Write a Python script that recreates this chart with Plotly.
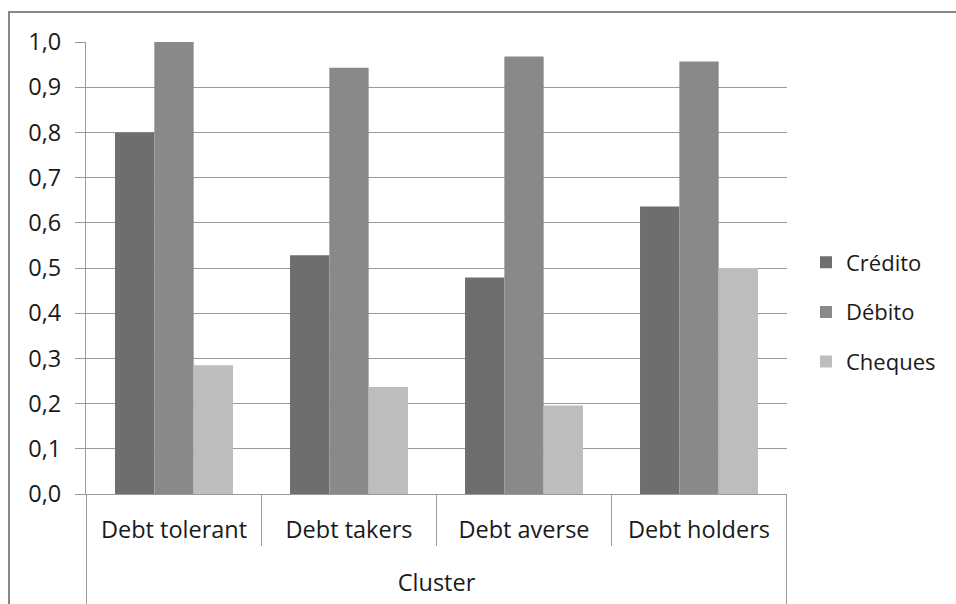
import plotly.graph_objects as go

categories = ["Debt tolerant", "Debt takers", "Debt averse", "Debt holders"]
credito = [0.80, 0.528, 0.479, 0.636]
debito = [1.00, 0.943, 0.968, 0.957]
cheques = [0.285, 0.237, 0.196, 0.500]
series_names = ["Crédito", "Débito", "Cheques"]
series_colors = ["#6e6e6e", "#898989", "#bdbdbd"]
y_ticks = [0.0, 0.1, 0.2, 0.3, 0.4, 0.5, 0.6, 0.7, 0.8, 0.9, 1.0]
axis_title = "Cluster"

FONT = "Open Sans"
FS = 23.5
TXT = "#1a1a1a"
W, H = 956, 604
L, R, T, B = 86, 787, 42, 494
pw, ph = R - L, B - T

fig = go.Figure()
for name, vals, col in zip(series_names, [credito, debito, cheques], series_colors):
    fig.add_trace(go.Bar(
        x=categories, y=vals, name=name, legendgroup=name,
        marker=dict(color=col, line=dict(width=0)),
    ))

grid = "#9a9a9a"
fig.update_layout(
    width=W, height=H,
    margin=dict(l=L, r=W - R, t=T, b=H - B, pad=0),
    paper_bgcolor="white", plot_bgcolor="white",
    separators=",.",
    barmode="group", bargap=0.326, bargroupgap=0,
    font=dict(family=FONT, size=FS, color=TXT),
    showlegend=True,
    legend=dict(
        x=(806 - L) / pw, xanchor="left",
        y=(B - 312) / ph, yanchor="middle",
        tracegroupgap=18,
        font=dict(family=FONT, size=22, color=TXT),
        bgcolor="rgba(0,0,0,0)",
    ),
)
fig.update_yaxes(
    range=[0, 1.0], tickvals=y_ticks, tickformat=".1f",
    showgrid=True, gridcolor=grid, gridwidth=1,
    showline=True, linecolor=grid, linewidth=1,
    ticks="outside", ticklen=10, tickcolor=grid,
    ticklabelstandoff=9,
    zeroline=False,
    tickfont=dict(family=FONT, size=FS, color=TXT),
)
fig.update_xaxes(
    showline=True, linecolor=grid, linewidth=1,
    ticks="", showgrid=False,
    ticklabelstandoff=15,
    tickfont=dict(family=FONT, size=FS, color=TXT),
    title=dict(text=axis_title, font=dict(family=FONT, size=FS, color=TXT), standoff=30),
)

# category dividers of the multi-level axis
n = len(categories)
for i in range(n + 1):
    xb = i - 0.5
    outer = i in (0, n)
    y_end = -(H - B) / ph if outer else -(546 - B) / ph
    fig.add_shape(type="line", xref="x", yref="paper", x0=xb, x1=xb, y0=0, y1=y_end,
                  line=dict(color=grid, width=1))

# chart-area border (extends past the right and bottom edges)
fig.add_shape(type="rect", xref="paper", yref="paper",
              x0=(9 - L) / pw, x1=(W + 20 - L) / pw,
              y0=-(H + 20 - B) / ph, y1=(B - 12) / ph,
              line=dict(color="#868686", width=2), fillcolor="rgba(0,0,0,0)", layer="below")

fig.write_html("out.html")
